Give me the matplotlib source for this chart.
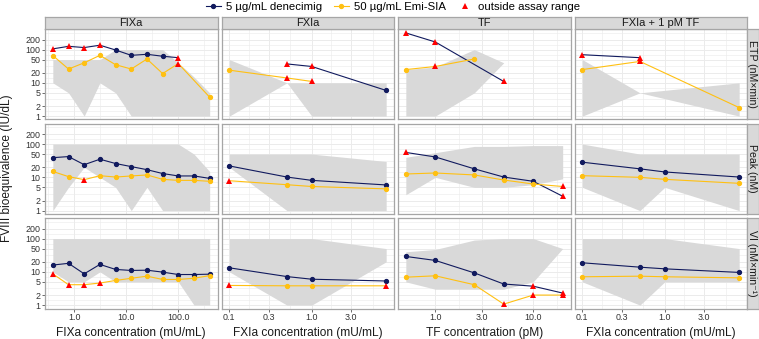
import numpy as np
import matplotlib
matplotlib.use("Agg")
import matplotlib.pyplot as plt
from matplotlib.lines import Line2D
from matplotlib.ticker import FixedLocator, NullFormatter

plt.rcParams['font.family'] = ['Liberation Sans', 'DejaVu Sans']

nan = np.nan

# x values per column
fixa_x = [0.39, 0.78, 1.56, 3.125, 6.25, 12.5, 25, 50, 100, 200, 400]
fxia_x = [0.1, 0.5, 1.0, 8.0]
tf_x = [0.5, 1.0, 2.5, 5.0, 10.0, 20.0]
fxtf_x = [0.1, 0.5, 1.0, 8.0]

col_titles = ["FIXa", "FXIa", "TF", "FXIa + 1 pM TF"]
row_titles = ["ETP (nM\u00d7min)", "Peak (nM)", "VI (nM\u00d7min\u207b\u00b9)"]
x_titles = ["FIXa concentration (mU/mL)", "FXIa concentration (mU/mL)",
            "TF concentration (pM)", "FXIa concentration (mU/mL)"]

# ---- ETP ----
etp_fixa_den = [105, 125, 115, 135, 97, 67, 72, 63, 57, nan, nan]
etp_fixa_den_out = [1, 1, 1, 1, 0, 0, 0, 0, 1, 0, 0]
etp_fixa_emi = [66, 26, 40, 67, 35, 26, 52, 19, 38, nan, 3.7]
etp_fixa_emi_out = [0, 0, 0, 0, 0, 0, 0, 0, 1, 0, 0]
etp_fixa_lo = [10, 5, 1, 10, 5, 1, 1, 1, 1, 1, 1]
etp_fixa_hi = [50, 50, 50, 50, 100, 100, 100, 100, 40, 15, 5]

etp_fxia_den = [nan, 37, 31, 5.9]
etp_fxia_den_out = [0, 1, 1, 0]
etp_fxia_emi = [24, 14, 11, nan]
etp_fxia_emi_out = [0, 1, 1, 0]
etp_fxia_lo = [1, 10, 1, 1]
etp_fxia_hi = [50, 10, 10, 10]

etp_tf_den = [316, 169, nan, 11, nan, nan]
etp_tf_den_out = [1, 1, 0, 1, 0, 0]
etp_tf_emi = [25, 31, 52, nan, nan, nan]
etp_tf_emi_out = [0, 1, 0, 0, 0, 0]
etp_tf_lo = [1, 1, 5, 40, nan, nan]
etp_tf_hi = [25, 30, 100, 40, nan, nan]

etp_fxtf_den = [70, 57, nan, nan]
etp_fxtf_den_out = [1, 1, 0, 0]
etp_fxtf_emi = [25, 44, nan, 1.8]
etp_fxtf_emi_out = [0, 1, 0, 0]
etp_fxtf_lo = [1, 5, nan, 1]
etp_fxtf_hi = [50, 5, nan, 10]

# ---- Peak ----
peak_fixa_den = [39, 42, 24, 35, 26, 21, 17, 13, 11, 11, 9.3]
peak_fixa_den_out = [0] * 11
peak_fixa_emi = [15, 10.5, 8.5, 11.2, 10.2, 11, 11.8, 8.7, 8.1, 8.1, 7.6]
peak_fixa_emi_out = [0, 0, 1, 0, 0, 0, 0, 0, 0, 0, 0]
peak_fixa_lo = [1, 5, 20, 10, 5, 1, 5, 1, 1, 1, 1]
peak_fixa_hi = [100, 100, 100, 100, 100, 100, 100, 100, 100, 50, 15]

peak_fxia_den = [22, 10.2, 8.1, 5.9]
peak_fxia_den_out = [0, 0, 0, 0]
peak_fxia_emi = [7.9, 6.0, 5.3, 4.5]
peak_fxia_emi_out = [1, 0, 0, 0]
peak_fxia_lo = [20, 1, 1, 1]
peak_fxia_hi = [50, 50, 50, 30]

peak_tf_den = [56, 41, 18, 10.2, 7.6, 2.7]
peak_tf_den_out = [1, 0, 0, 0, 0, 1]
peak_tf_emi = [12.6, 13.5, 11.8, 8.3, 6.3, 5.3]
peak_tf_emi_out = [0, 0, 0, 0, 0, 1]
peak_tf_lo = [3, 10, 5, 5, 6, 9]
peak_tf_hi = [40, 55, 85, 85, 90, 90]

peak_fxtf_den = [28.5, 18, 14.5, 10.2]
peak_fxtf_den_out = [0, 0, 0, 0]
peak_fxtf_emi = [11.2, 10, 8.7, 6.6]
peak_fxtf_emi_out = [0, 0, 0, 0]
peak_fxtf_lo = [5, 1, 5, 1]
peak_fxtf_hi = [100, 50, 50, 50]

# ---- VI ----
vi_fixa_den = [16, 18, 8.7, 16.7, 11.8, 11, 11.2, 9.8, 8.3, 8.3, 8.5]
vi_fixa_den_out = [0] * 11
vi_fixa_emi = [8.7, 4.1, 4.1, 4.6, 5.5, 6.4, 7.4, 5.9, 5.9, 6.4, 7.7]
vi_fixa_emi_out = [1, 1, 1, 1, 0, 0, 0, 0, 0, 0, 0]
vi_fixa_lo = [10, 5, 5, 10, 5, 5, 5, 5, 5, 1, 1]
vi_fixa_hi = [100] * 11

vi_fxia_den = [13.2, 7.2, 6.0, 5.3]
vi_fxia_den_out = [0, 0, 0, 0]
vi_fxia_emi = [3.9, 3.8, 3.8, 3.8]
vi_fxia_emi_out = [1, 0, 0, 1]
vi_fxia_lo = [10, 1, 1, 20]
vi_fxia_hi = [100, 100, 100, 50]

vi_tf_den = [29, 22, 9.3, 4.3, 3.7, 2.3]
vi_tf_den_out = [0, 0, 0, 0, 1, 1]
vi_tf_emi = [6.9, 7.6, 4.1, 1.07, 2.0, 2.0]
vi_tf_emi_out = [0, 0, 0, 1, 1, 1]
vi_tf_lo = [5, 3, 3, 3, 5, 50]
vi_tf_hi = [40, 47, 90, 100, 100, 50]

vi_fxtf_den = [18.7, 13.8, 12.3, 9.6]
vi_fxtf_den_out = [0, 0, 0, 0]
vi_fxtf_emi = [7.1, 7.4, 7.1, 6.6]
vi_fxtf_emi_out = [0, 0, 0, 0]
vi_fxtf_lo = [5, 1, 5, 5]
vi_fxtf_hi = [100, 100, 100, 50]

panels = [
    [(fixa_x, etp_fixa_den, etp_fixa_den_out, etp_fixa_emi, etp_fixa_emi_out, etp_fixa_lo, etp_fixa_hi),
     (fxia_x, etp_fxia_den, etp_fxia_den_out, etp_fxia_emi, etp_fxia_emi_out, etp_fxia_lo, etp_fxia_hi),
     (tf_x, etp_tf_den, etp_tf_den_out, etp_tf_emi, etp_tf_emi_out, etp_tf_lo, etp_tf_hi),
     (fxtf_x, etp_fxtf_den, etp_fxtf_den_out, etp_fxtf_emi, etp_fxtf_emi_out, etp_fxtf_lo, etp_fxtf_hi)],
    [(fixa_x, peak_fixa_den, peak_fixa_den_out, peak_fixa_emi, peak_fixa_emi_out, peak_fixa_lo, peak_fixa_hi),
     (fxia_x, peak_fxia_den, peak_fxia_den_out, peak_fxia_emi, peak_fxia_emi_out, peak_fxia_lo, peak_fxia_hi),
     (tf_x, peak_tf_den, peak_tf_den_out, peak_tf_emi, peak_tf_emi_out, peak_tf_lo, peak_tf_hi),
     (fxtf_x, peak_fxtf_den, peak_fxtf_den_out, peak_fxtf_emi, peak_fxtf_emi_out, peak_fxtf_lo, peak_fxtf_hi)],
    [(fixa_x, vi_fixa_den, vi_fixa_den_out, vi_fixa_emi, vi_fixa_emi_out, vi_fixa_lo, vi_fixa_hi),
     (fxia_x, vi_fxia_den, vi_fxia_den_out, vi_fxia_emi, vi_fxia_emi_out, vi_fxia_lo, vi_fxia_hi),
     (tf_x, vi_tf_den, vi_tf_den_out, vi_tf_emi, vi_tf_emi_out, vi_tf_lo, vi_tf_hi),
     (fxtf_x, vi_fxtf_den, vi_fxtf_den_out, vi_fxtf_emi, vi_fxtf_emi_out, vi_fxtf_lo, vi_fxtf_hi)],
]

x_major = [[1, 10, 100], [0.1, 0.3, 1, 3], [1, 3, 10], [0.1, 0.3, 1, 3]]
x_labels = [["1.0", "10.0", "100.0"], ["0.1", "0.3", "1.0", "3.0"],
            ["1.0", "3.0", "10.0"], ["0.1", "0.3", "1.0", "3.0"]]
y_major = [1, 2, 5, 10, 20, 50, 100, 200]

DEN = '#111a5e'
EMI = '#ffc012'
RED = '#ff0000'
RIB = '#d9d9d9'
BORDER = '#a6a6a6'
GRID = '#ebebeb'

W, H = 759, 339
fig = plt.figure(figsize=(W / 100, H / 100), dpi=100)

col_left = [45, 221.5, 398, 574.5]
pw = 172.5
row_top = [29, 123.5, 218]
ph = 90.5


def box(l, t, w, h):
    return [l / W, 1 - (t + h) / H, w / W, h / H]


def minor_between(ticks):
    lt = np.log10(ticks)
    return list(10 ** ((lt[:-1] + lt[1:]) / 2))


def draw_series(ax, x, y, out, color):
    x = np.array(x, float)
    y = np.array(y, float)
    out = np.array(out, bool)
    m = ~np.isnan(y)
    ax.plot(x[m], y[m], color=color, lw=0.8, zorder=3)
    ok = m & ~out
    ax.plot(x[ok], y[ok], 'o', color=color, ms=2.8, zorder=4)
    bad = m & out
    ax.plot(x[bad], y[bad], '^', color=RED, ms=4.2, mew=0, zorder=5)


def strip(l, t, w, h, text, rot, size):
    sax = fig.add_axes(box(l, t, w, h))
    sax.set_facecolor('#d9d9d9')
    sax.set_xticks([])
    sax.set_yticks([])
    for s in sax.spines.values():
        s.set_color(BORDER)
        s.set_linewidth(0.9)
    sax.text(0.5 if rot == 0 else 0.45, 0.47 if rot == 0 else 0.5, text, ha='center', va='center',
             rotation=rot, fontsize=size, color='#1a1a1a')


for r in range(3):
    for c in range(4):
        x, den, den_out, emi, emi_out, lo, hi = panels[r][c]
        ax = fig.add_axes(box(col_left[c], row_top[r], pw, ph))
        ax.set_xscale('log')
        ax.set_yscale('log')
        xa = np.array(x, float)
        lo_a = np.array(lo, float)
        hi_a = np.array(hi, float)
        m = ~np.isnan(lo_a)
        ax.fill_between(xa[m], lo_a[m], hi_a[m], color=RIB, lw=0, zorder=1)
        draw_series(ax, x, den, den_out, DEN)
        draw_series(ax, x, emi, emi_out, EMI)

        lx = np.log10([min(x), max(x)])
        span = lx[1] - lx[0]
        ax.set_xlim(10 ** (lx[0] - 0.05 * span), 10 ** (lx[1] + 0.05 * span))
        ax.set_ylim(0.79, 415)

        ax.xaxis.set_major_locator(FixedLocator(x_major[c]))
        if c == 0:
            ax.xaxis.set_minor_locator(FixedLocator(minor_between([0.1, 1, 10, 100, 1000])))
        else:
            ax.xaxis.set_minor_locator(FixedLocator(minor_between([0.03] + x_major[c] + [10, 30, 100])))
        ax.yaxis.set_major_locator(FixedLocator(y_major))
        ax.yaxis.set_minor_locator(FixedLocator(minor_between([0.5] + y_major + [500])))
        ax.xaxis.set_minor_formatter(NullFormatter())
        ax.yaxis.set_minor_formatter(NullFormatter())
        ax.grid(True, which='major', color=GRID, lw=0.7, zorder=0)
        ax.grid(True, which='minor', color=GRID, lw=0.4, zorder=0)
        ax.set_axisbelow(True)
        for s in ax.spines.values():
            s.set_color(BORDER)
            s.set_linewidth(0.9)
        ax.tick_params(which='minor', length=0)
        ax.tick_params(which='major', length=2.2, width=0.6, color='#555555',
                       labelsize=6.4, labelcolor='#333333', pad=1.0)
        if c == 0:
            ax.set_yticklabels([str(v) for v in y_major])
        else:
            ax.tick_params(axis='y', length=0, labelleft=False)
        if r == 2:
            ax.set_xticklabels(x_labels[c])
            ax.set_xlabel(x_titles[c], fontsize=8.6, labelpad=3.5, color='#1a1a1a')
        else:
            ax.tick_params(axis='x', length=0, labelbottom=False)

        if r == 0:
            strip(col_left[c], 17, pw, 12, col_titles[c], 0, 8.0)
        if c == 3:
            strip(col_left[c] + pw, row_top[r], 12, ph, row_titles[r], -90, 7.6)

fig.text(7.5 / W, 1 - 168 / H, "FVIII bioequivalence (IU/dL)", rotation=90,
         ha='center', va='center', fontsize=8.6, color='#1a1a1a')

handles = [
    Line2D([], [], color=DEN, lw=0.8, marker='o', ms=2.8),
    Line2D([], [], color=EMI, lw=0.8, marker='o', ms=2.8),
    Line2D([], [], color=RED, lw=0, marker='^', ms=4.5, mew=0),
]
labels = ["5 \u00b5g/mL denecimig", "50 \u00b5g/mL Emi-SIA", "outside assay range"]
fig.legend(handles, labels, loc='center', bbox_to_anchor=(393 / W, 1 - 6.5 / H), ncol=3,
           frameon=False, fontsize=8.2, handlelength=1.3, handletextpad=0.5,
           columnspacing=1.0, borderpad=0, borderaxespad=0)

fig.savefig('out.png', dpi=100)
